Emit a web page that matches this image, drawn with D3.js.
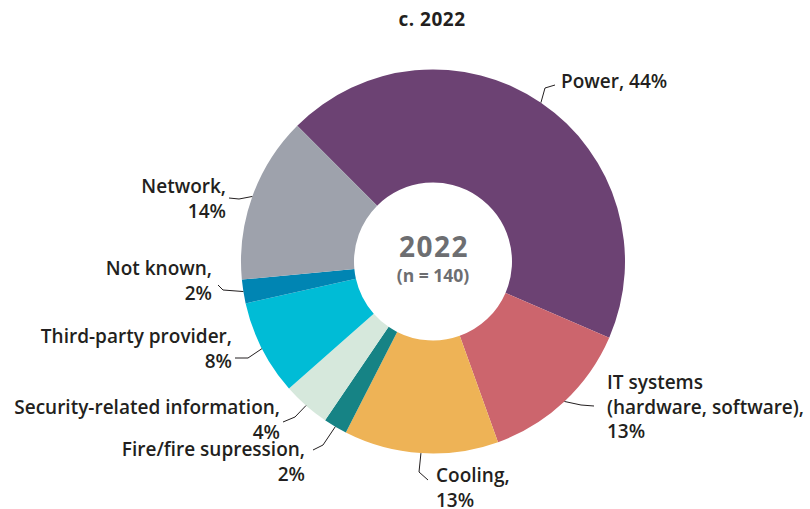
<!DOCTYPE html>
<html>
<head>
<meta charset="utf-8">
<script src="https://cdn.jsdelivr.net/npm/d3@7"></script>
<style>
  html, body { margin: 0; padding: 0; background: #fff; }
  svg { display: block; }
  text { font-family: "Open Sans", sans-serif; }
</style>
</head>
<body>
<svg id="chart" width="810" height="509"></svg>
<script>
// Outage causes, 2022 (share of respondents, %)
const categories = [
  "Power", "IT systems (hardware, software)", "Cooling", "Fire/fire supression",
  "Security-related information", "Third-party provider", "Not known", "Network"
];
const shares = [44, 13, 13, 2, 4, 8, 2, 14];
const colors = ["#6c4273", "#cc656d", "#eeb356", "#168385", "#d6e8dc", "#00bcd6", "#0085b3", "#9ea2ac"];
const labelLines = [
  ["Power, 44%"],
  ["IT systems", "(hardware, software),", "13%"],
  ["Cooling,", "13%"],
  ["Fire/fire supression,", "2%"],
  ["Security-related information,", "4%"],
  ["Third-party provider,", "8%"],
  ["Not known,", "2%"],
  ["Network,", "14%"]
];
const title = "c. 2022";
const centerTitle = "2022";
const centerSub = "(n = 140)";

// Label layout: leader elbow / end points and text anchor
const labelLayout = [
  { elbow: [545, 88], end: [555, 85], x: 561, y: 88, anchor: "start" },
  { elbow: [581, 405], end: [594, 406], x: 607, y: 389, anchor: "start" },
  { elbow: [419, 472], end: [428, 480], x: 436, y: 482, anchor: "start" },
  { elbow: [323, 445], end: [313, 450], x: 305, y: 456, anchor: "end" },
  { elbow: [295, 417], end: [283, 422], x: 280, y: 414, anchor: "end" },
  { elbow: [248, 358], end: [235, 358], x: 232, y: 343, anchor: "end" },
  { elbow: [223, 290], end: [218, 285], x: 212, y: 275, anchor: "end" },
  { elbow: [239, 199], end: [229, 198], x: 226, y: 193, anchor: "end" }
];

const svg = d3.select("#chart");
const cx = 433, cy = 261.5;
const outerR = 192, innerR = 79;
const lineH = 24.5;

svg.append("text")
  .attr("x", 432).attr("y", 26)
  .attr("text-anchor", "middle")
  .attr("font-size", 19).attr("font-weight", 700)
  .attr("letter-spacing", 0.5)
  .attr("fill", "#231f20")
  .text(title);

const data = categories.map((c, i) => ({ name: c, value: shares[i], i }));

const pie = d3.pie()
  .sort(null)
  .value(d => d.value)
  .startAngle(-Math.PI / 4)
  .endAngle(-Math.PI / 4 + 2 * Math.PI);

const arc = d3.arc().innerRadius(innerR).outerRadius(outerR);
const arcs = pie(data);

const g = svg.append("g").attr("transform", `translate(${cx},${cy})`);

g.selectAll("path.slice")
  .data(arcs)
  .join("path")
  .attr("class", "slice")
  .attr("d", arc)
  .attr("fill", d => colors[d.data.i]);

// center text
g.append("text")
  .attr("x", 1).attr("y", -5)
  .attr("text-anchor", "middle")
  .attr("font-size", 28).attr("font-weight", 700)
  .attr("letter-spacing", 1.5)
  .attr("fill", "#6d6e71")
  .text(centerTitle);
g.append("text")
  .attr("x", 0).attr("y", 20)
  .attr("text-anchor", "middle")
  .attr("font-size", 17.5).attr("font-weight", 700)
  .attr("fill", "#6d6e71")
  .text(centerSub);

// leader lines and labels
arcs.forEach((a, k) => {
  const L = labelLayout[k];
  const mid = (a.startAngle + a.endAngle) / 2;
  const sx = cx + outerR * Math.sin(mid);
  const sy = cy - outerR * Math.cos(mid);
  svg.append("path")
    .attr("d", d3.line()([[sx, sy], L.elbow, L.end]))
    .attr("fill", "none")
    .attr("stroke", "#231f20")
    .attr("stroke-width", 1);
  const t = svg.append("text")
    .attr("x", L.x).attr("y", L.y)
    .attr("text-anchor", L.anchor)
    .attr("font-size", 19).attr("font-weight", 600)
    .attr("fill", "#231f20");
  labelLines[k].forEach((line, j) => {
    t.append("tspan")
      .attr("x", L.x)
      .attr("y", L.y + j * lineH)
      .text(line);
  });
});
</script>
</body>
</html>
